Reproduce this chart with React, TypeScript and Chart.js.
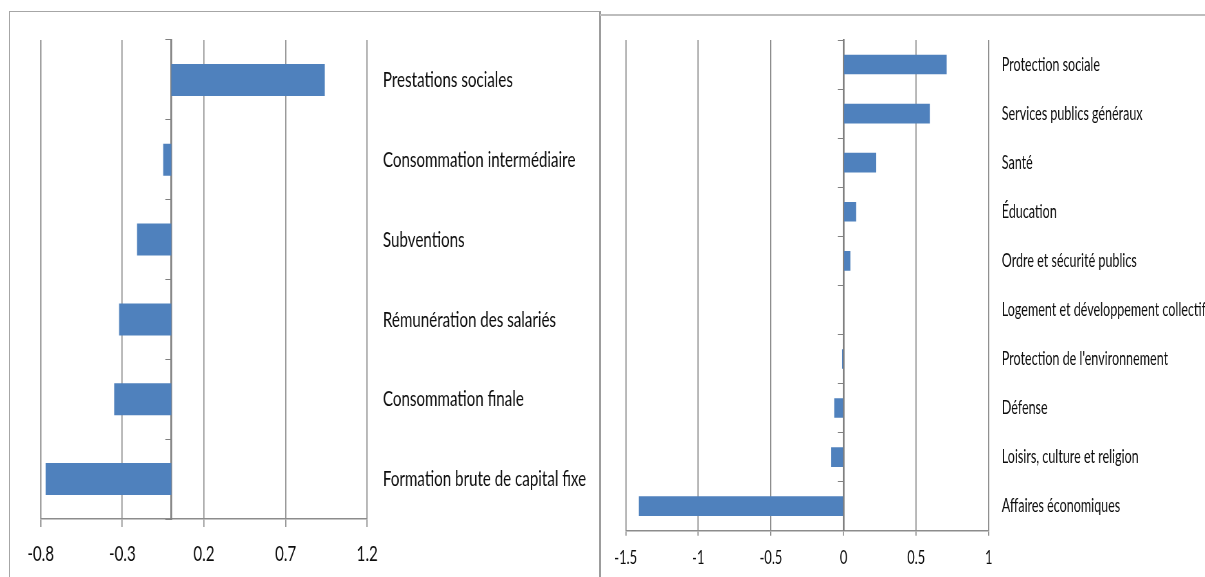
import React, { useEffect, useRef } from "react";
import { Chart, registerables } from "chart.js";

Chart.register(...registerables);

// ---------- DATA ----------
const LEFT_CATEGORIES = [
  "Prestations sociales",
  "Consommation intermédiaire",
  "Subventions",
  "Rémunération des salariés",
  "Consommation finale",
  "Formation brute de capital fixe",
];
const LEFT_VALUES = [0.94, -0.05, -0.21, -0.32, -0.35, -0.77];
const LEFT_TICKS = [-0.8, -0.3, 0.2, 0.7, 1.2];
const LEFT_TICK_LABELS = ["-0.8", "-0.3", "0.2", "0.7", "1.2"];

const RIGHT_CATEGORIES = [
  "Protection sociale",
  "Services publics généraux",
  "Santé",
  "Éducation",
  "Ordre et sécurité publics",
  "Logement et développement collectif",
  "Protection de l'environnement",
  "Défense",
  "Loisirs, culture et religion",
  "Affaires économiques",
];
const RIGHT_VALUES = [0.71, 0.595, 0.225, 0.087, 0.047, 0, -0.01, -0.064, -0.085, -1.41];
const RIGHT_TICKS = [-1.5, -1, -0.5, 0, 0.5, 1];
const RIGHT_TICK_LABELS = ["-1.5", "-1", "-0.5", "0", "0.5", "1"];

// ---------- STYLE ----------
const BAR_COLOR = "#4F81BD";
const GRID_COLOR = "#8c8c8c";
const AXIS_COLOR = "#808080";
const TEXT_COLOR = "#0d0d0d";
const FONT_FAMILY = "Lato, 'Liberation Sans', sans-serif";

type PanelSpec = {
  categories: string[];
  values: number[];
  ticks: number[];
  tickLabels: string[];
  min: number;
  max: number;
  k: number; // horizontal squeeze of the whole chart
  left: number;
  top: number;
  width: number;
  height: number;
  plotLeft: number;
  plotRight: number;
  plotTop: number;
  plotBottom: number;
  labelGap: number;
  catFont: number;
  tickFont: number;
  tickLen: number;
  tickLabelOffset: number;
};

const LEFT_SPEC: PanelSpec = {
  categories: LEFT_CATEGORIES,
  values: LEFT_VALUES,
  ticks: LEFT_TICKS,
  tickLabels: LEFT_TICK_LABELS,
  min: -0.8,
  max: 1.2,
  k: 0.688,
  left: 10,
  top: 12,
  width: 589,
  height: 565,
  plotLeft: 30.7,
  plotRight: 357.3,
  plotTop: 28,
  plotBottom: 507,
  labelGap: 15.7,
  catFont: 22,
  tickFont: 22,
  tickLen: 8,
  tickLabelOffset: 35,
};

const RIGHT_SPEC: PanelSpec = {
  categories: RIGHT_CATEGORIES,
  values: RIGHT_VALUES,
  ticks: RIGHT_TICKS,
  tickLabels: RIGHT_TICK_LABELS,
  min: -1.5,
  max: 1,
  k: 0.643,
  left: 601,
  top: 16,
  width: 604,
  height: 561,
  plotLeft: 24.7,
  plotRight: 388,
  plotTop: 24,
  plotBottom: 514.7,
  labelGap: 13,
  catFont: 19.5,
  tickFont: 20,
  tickLen: 5,
  tickLabelOffset: 26.8,
};

function BarPanel({ spec }: { spec: PanelSpec }) {
  const ref = useRef<HTMLCanvasElement | null>(null);
  const cw = Math.round(spec.width / spec.k);

  useEffect(() => {
    const canvas = ref.current;
    if (!canvas) return;
    const k = spec.k;
    const lineH = spec.tickFont * 1.2;
    const chart = new Chart(canvas, {
      type: "bar",
      data: {
        labels: spec.categories,
        datasets: [
          {
            data: spec.values,
            backgroundColor: BAR_COLOR,
            borderWidth: 0,
            barPercentage: 0.4,
            categoryPercentage: 1,
          },
        ],
      },
      options: {
        indexAxis: "y",
        animation: false,
        responsive: false,
        maintainAspectRatio: false,
        events: [],
        plugins: { legend: { display: false }, tooltip: { enabled: false } },
        layout: {
          padding: { left: spec.plotLeft / k, top: spec.plotTop, right: 0, bottom: 0 },
        },
        scales: {
          x: {
            type: "linear",
            position: "bottom",
            min: spec.min,
            max: spec.max,
            afterBuildTicks: (s: any) => {
              s.ticks = spec.ticks.map((v) => ({ value: v }));
            },
            afterFit: (s: any) => {
              s.height = spec.height - spec.plotBottom;
              s.paddingLeft = 0;
              s.paddingRight = 0;
            },
            grid: {
              color: GRID_COLOR,
              lineWidth: 1.1 / k,
              drawTicks: true,
              tickLength: spec.tickLen,
              tickColor: GRID_COLOR,
            },
            border: { display: true, color: GRID_COLOR, width: 1.5 },
            ticks: {
              font: { family: FONT_FAMILY, size: spec.tickFont },
              color: TEXT_COLOR,
              padding: spec.tickLabelOffset - spec.tickLen - lineH / 2,
              maxRotation: 0,
              autoSkip: false,
              callback: (_v: any, i: number) => spec.tickLabels[i],
            },
          },
          y: {
            type: "category",
            position: { x: 0 } as any,
            offset: true,
            grid: {
              display: true,
              drawOnChartArea: false,
              drawTicks: true,
              tickLength: 5 / k,
              color: AXIS_COLOR,
              lineWidth: 1,
              offset: true,
            },
            border: { display: true, color: AXIS_COLOR, width: 1.8 / k },
            ticks: { display: false },
            afterFit: (s: any) => {
              s.paddingTop = 0;
              s.paddingBottom = 0;
            },
          },
          y2: {
            type: "category",
            position: "right",
            labels: spec.categories,
            offset: true,
            grid: {
              display: true,
              drawOnChartArea: false,
              drawTicks: true,
              tickLength: spec.labelGap / k,
              color: "rgba(0,0,0,0)",
            },
            border: { display: false },
            ticks: {
              font: { family: FONT_FAMILY, size: spec.catFont },
              color: TEXT_COLOR,
              padding: 0,
              autoSkip: false,
            },
            afterFit: (s: any) => {
              s.width = (spec.width - spec.plotRight) / k;
              s.paddingTop = 0;
              s.paddingBottom = 0;
            },
          },
        },
      } as any,
    });
    return () => chart.destroy();
  }, [spec]);

  return (
    <canvas
      ref={ref}
      width={cw}
      height={spec.height}
      style={{
        position: "absolute",
        left: spec.left,
        top: spec.top,
        width: cw,
        height: spec.height,
        transform: `scaleX(${spec.k})`,
        transformOrigin: "0 0",
      }}
    />
  );
}

export default function App() {
  return (
    <div
      style={{
        position: "fixed",
        left: 0,
        top: 0,
        width: 1205,
        height: 577,
        overflow: "hidden",
        background: "#ffffff",
      }}
    >
      {/* left panel frame */}
      <div
        style={{
          position: "absolute",
          left: 9,
          top: 11,
          width: 589,
          height: 600,
          borderTop: "1px solid #a6a6a6",
          borderLeft: "1px solid #a6a6a6",
          borderRight: "2px solid #9c9c9c",
        }}
      />
      {/* right panel frame */}
      <div
        style={{
          position: "absolute",
          left: 600,
          top: 14,
          width: 620,
          height: 600,
          borderTop: "2px solid #bdbdbd",
        }}
      />
      <BarPanel spec={LEFT_SPEC} />
      <BarPanel spec={RIGHT_SPEC} />
    </div>
  );
}
